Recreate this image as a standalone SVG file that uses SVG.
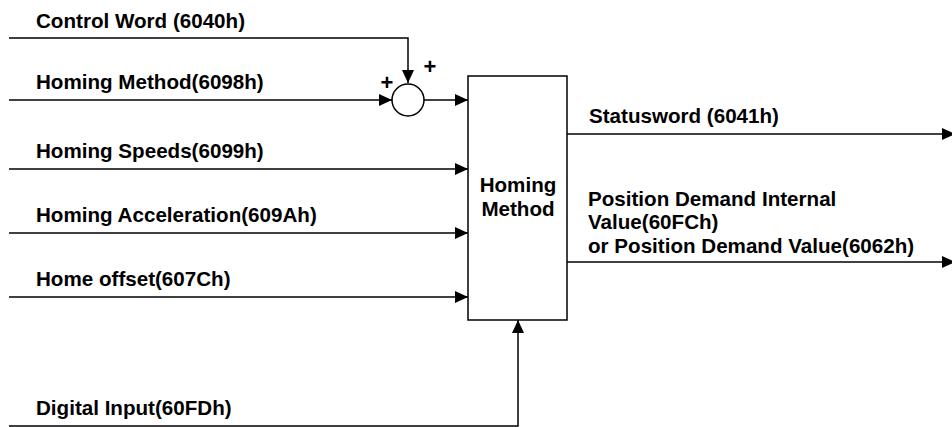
<svg xmlns="http://www.w3.org/2000/svg" width="952" height="427" viewBox="0 0 952 427">
<defs>
<marker id="arr" markerUnits="userSpaceOnUse" markerWidth="14" markerHeight="14" refX="13" refY="6" orient="auto">
<path d="M0,0 L13,6 L0,12 z" fill="#000"/>
</marker>
<style>
.t{font-family:"Liberation Sans",Arial,sans-serif;font-weight:bold;font-size:20.6px;fill:#000}
.p{font-family:"Liberation Sans",Arial,sans-serif;font-weight:bold;font-size:22px;fill:#000}
.c{fill:none;stroke:#000;stroke-width:1.5}
</style>
</defs>
<rect width="952" height="427" fill="#fff"/>
<g id="connectors">
<path class="c" d="M9,38 H408 V83" marker-end="url(#arr)"/>
<path class="c" d="M9,100 H392" marker-end="url(#arr)"/>
<path class="c" d="M424,100 H468" marker-end="url(#arr)"/>
<path class="c" d="M9,169 H468" marker-end="url(#arr)"/>
<path class="c" d="M9,233 H468" marker-end="url(#arr)"/>
<path class="c" d="M9,297 H468" marker-end="url(#arr)"/>
<path class="c" d="M9,426 H518 V320" marker-end="url(#arr)"/>
<path class="c" d="M567,134 H955" marker-end="url(#arr)"/>
<path class="c" d="M567,262 H955" marker-end="url(#arr)"/>
</g>
<g id="labels">
<text class="t" x="36" y="28">Control Word (6040h)</text>
<text class="t" x="36" y="89">Homing Method(6098h)</text>
<text class="t" x="36" y="158">Homing Speeds(6099h)</text>
<text class="t" x="36" y="222">Homing Acceleration(609Ah)</text>
<text class="t" x="36" y="286">Home offset(607Ch)</text>
<text class="t" x="36" y="415">Digital Input(60FDh)</text>
<text class="t" x="589" y="123">Statusword (6041h)</text>
<text class="t" x="588" y="206">Position Demand Internal</text>
<text class="t" x="588" y="229">Value(60FCh)</text>
<text class="t" x="588" y="253">or Position Demand Value(6062h)</text>
</g>
<g id="sum">
<circle cx="408" cy="100" r="16" fill="#fff" stroke="#000" stroke-width="1.5"/>
<text class="p" x="387" y="90" text-anchor="middle">+</text>
<text class="p" x="430" y="74" text-anchor="middle">+</text>
</g>
<g id="homing-method">
<rect x="468" y="76" width="99" height="244" fill="#fff" stroke="#000" stroke-width="1.5"/>
<text class="t" x="518" y="192" text-anchor="middle">Homing</text>
<text class="t" x="518" y="216" text-anchor="middle">Method</text>
</g>
</svg>
